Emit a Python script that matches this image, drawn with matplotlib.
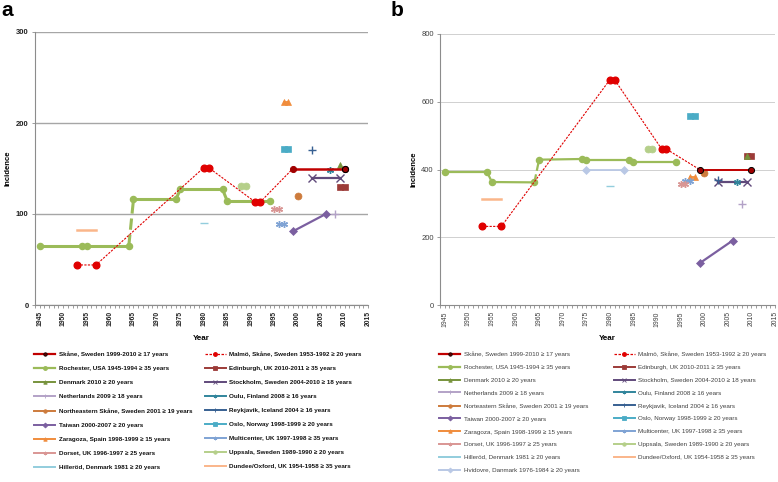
import matplotlib
matplotlib.use("Agg")
import matplotlib.pyplot as plt
from matplotlib.lines import Line2D
from matplotlib.ticker import MultipleLocator

# x = year as plotted, *_a = incidence in panel a, *_b = incidence in panel b
skane_x = [1999, 2010]
skane_a = [150, 150]
skane_b = [400, 400]

malmo_x = [1953, 1957, 1980, 1981, 1991, 1992, 1999]
malmo_a = [44, 44, 151, 151, 113, 113, 150]
malmo_b = [232, 232, 665, 665, 460, 460, 400]

roch_x = [1945, 1954, 1955, 1964, 1965, 1974, 1975, 1984, 1985, 1994]
roch_a = [65, 65, 65, 65, 116, 116, 127, 127, 114, 114]
roch_b = [392, 392, 363, 362, 429, 431, 427, 427, 421, 421]

edin_x = [2009, 2010]
edin_a = [130, 130]
edin_b = [440, 440]

denmark_x = [2009]
denmark_a = [154]
denmark_b = [441]

stock_x = [2003, 2009]
stock_a = [140, 140]
stock_b = [362, 362]

neth_x = [2008]
neth_a = [100]
neth_b = [298]

oulu_x = [2007]
oulu_a = [148]
oulu_b = [362]

neskane_x = [2000]
neskane_a = [120]
neskane_b = [389]

reyk_x = [2003]
reyk_a = [170]
reyk_b = [370]

taiwan_x = [1999, 2006]
taiwan_a = [81, 100]
taiwan_b = [123, 190]

oslo_x = [1997, 1998]
oslo_a = [171, 171]
oslo_b = [558, 558]

zara_x = [1997, 1998]
zara_a = [223, 223]
zara_b = [379, 379]

multi_x = [1996, 1997]
multi_a = [89, 89]
multi_b = [365, 365]

dorset_x = [1995, 1996]
dorset_a = [105, 105]
dorset_b = [358, 358]

upps_x = [1988, 1989]
upps_a = [131, 131]
upps_b = [461, 461]

hill_x = [1980]
hill_a = [90]
hill_b = [350]

dundee_x = [1953, 1957]
dundee_a = [82, 82]
dundee_b = [312, 312]

hvid_x = [1975, 1983]
hvid_b = [398, 398]

lbl_skane = "Skåne, Sweden 1999-2010 ≥ 17 years"
lbl_malmo = "Malmö, Skåne, Sweden 1953-1992 ≥ 20 years"
lbl_roch = "Rochester, USA 1945-1994 ≥ 35 years"
lbl_edin = "Edinburgh, UK 2010-2011 ≥ 35 years"
lbl_denmark = "Denmark 2010 ≥ 20 years"
lbl_stock = "Stockholm, Sweden 2004-2010 ≥ 18 years"
lbl_neth = "Netherlands 2009 ≥ 18 years"
lbl_oulu = "Oulu, Finland 2008 ≥ 16 years"
lbl_neskane_a = "Northeastern Skåne, Sweden 2001 ≥ 19 years"
lbl_neskane_b = "Norteastern Skåne, Sweden 2001 ≥ 19 years"
lbl_reyk = "Reykjavik, Iceland 2004 ≥ 16 years"
lbl_taiwan = "Taiwan 2000-2007 ≥ 20 years"
lbl_oslo = "Oslo, Norway 1998-1999 ≥ 20 years"
lbl_zara = "Zaragoza, Spain 1998-1999 ≥ 15 years"
lbl_multi = "Multicenter, UK 1997-1998 ≥ 35 years"
lbl_dorset = "Dorset, UK 1996-1997 ≥ 25 years"
lbl_upps = "Uppsala, Sweden 1989-1990 ≥ 20 years"
lbl_hill = "Hilleröd, Denmark 1981 ≥ 20 years"
lbl_dundee = "Dundee/Oxford, UK 1954-1958 ≥ 35 years"
lbl_hvid = "Hvidovre, Danmark 1976-1984 ≥ 20 years"

star = (6, 2, 0)


def draw_panel(ax, panel, series_y, neskane_lbl, weight, grid_col, ymax, ystep, colsp, lsp):
    a = panel == "a"
    ms = 4.4
    handles = {}

    # Rochester: solid study periods joined by dashed transitions
    ry = series_y["roch"]
    for i in range(len(roch_x) - 1):
        ls = "--" if i in (1, 3) else "-"
        ax.plot(roch_x[i:i + 2], ry[i:i + 2], color="#9BBB59", lw=2.2 if a else 1.6,
                ls=ls, zorder=3, solid_capstyle="butt")
    ax.plot(roch_x, ry, ls="none", marker="o", ms=ms, color="#9BBB59", zorder=3)
    handles["roch"] = Line2D([], [], color="#9BBB59", lw=1.6, marker="o", ms=2.5)

    ax.plot(malmo_x, series_y["malmo"], color="#E00000", lw=0.8, ls=(0, (2, 1.2)),
            marker="o", ms=ms + 0.4, markevery=list(range(6)), zorder=4)
    ax.plot(skane_x, series_y["skane"], color="#C00000", lw=1.8 if a else 1.4, marker="o",
            ms=ms, mfc="#A00000", mec="black" if not a else "#A00000", mew=0.7, zorder=4)
    if a:
        ax.plot(skane_x[-1:], series_y["skane"][-1:], ls="none", marker="o", ms=ms,
                mfc="#A00000", mec="black", mew=0.8, zorder=5)

    simple = [
        ("edin", edin_x, "#9C3B38", "s"),
        ("denmark", denmark_x, "#77933C", "^"),
        ("stock", stock_x, "#604A7B", "x"),
        ("neth", neth_x, "#B3A2C7", "+"),
        ("oulu", oulu_x, "#31859C", star),
        ("neskane", neskane_x, "#CD7B3C", "o"),
        ("reyk", reyk_x, "#376092", "+"),
        ("taiwan", taiwan_x, "#7B5FA0", "D"),
        ("oslo", oslo_x, "#4BACC6", "s"),
        ("zara", zara_x, "#F08C3C", "^"),
        ("multi", multi_x, "#7FA3D4", star),
        ("dorset", dorset_x, "#D99694", star),
        ("upps", upps_x, "#B5CF8A", "o"),
        ("hill", hill_x, "#93CDDD", "_"),
        ("dundee", dundee_x, "#FAB68A", ""),
        ("hvid", hvid_x, "#B9C8E5", "D"),
    ]
    for key, xs, col, mk in simple:
        if key not in series_y:
            continue
        kw = dict(color=col, lw=1.6 if key in ("stock", "taiwan") else 1.3, zorder=3)
        if mk:
            size = ms + 0.6
            if mk == "D":
                size = ms - 0.6
            if mk in ("x", "+", "_"):
                size = ms + 0.8
            kw.update(marker=mk, ms=size, mew=1.0 if mk in ("x", "+", "_", star) else 0.5)
        if key == "dundee":
            kw["lw"] = 1.8
        ax.plot(xs, series_y[key], **kw)
        handles[key] = Line2D([], [], color=col, lw=1.4, marker=mk if mk else None, ms=2.5,
                              mew=0.6)

    handles["skane"] = Line2D([], [], color="#C00000", lw=1.6, marker="o", ms=2.5,
                              mfc="#600000", mec="black", mew=0.5)
    handles["malmo"] = Line2D([], [], color="#E00000", lw=0.9, ls=(0, (2, 1.2)), marker="o",
                              ms=2.5)

    ax.set_xlim(1944, 2015)
    ax.set_ylim(0, ymax)
    ax.yaxis.set_major_locator(MultipleLocator(ystep))
    ax.xaxis.set_major_locator(MultipleLocator(5))
    ax.xaxis.set_minor_locator(MultipleLocator(1))
    ax.grid(axis="y", color=grid_col, lw=1.0 if a else 0.7)
    ax.set_axisbelow(True)
    for s in ("top", "right"):
        ax.spines[s].set_visible(False)
    for s in ("left", "bottom"):
        ax.spines[s].set_color("#8C8C8C")
        ax.spines[s].set_linewidth(0.8)
    ax.tick_params(axis="x", which="both", direction="out", length=2.5, width=0.6,
                   color="#8C8C8C", labelsize=4.9, rotation=90, pad=2)
    ax.tick_params(axis="y", direction="out", length=2.5, width=0.6, color="#8C8C8C",
                   labelsize=5.5, pad=2)
    for t in ax.get_xticklabels() + ax.get_yticklabels():
        t.set_fontweight(weight)
        t.set_color("#222222" if a else "#404040")
    ax.set_xlabel("Year", fontsize=5.8, fontweight="bold", labelpad=6)
    ax.set_ylabel("Incidence", fontsize=5.6, fontweight="bold", labelpad=3)

    left = ["skane", "roch", "denmark", "neth", "neskane", "taiwan", "zara", "dorset", "hill"]
    right = ["malmo", "edin", "stock", "oulu", "reyk", "oslo", "multi", "upps", "dundee"]
    if "hvid" in series_y:
        left.append("hvid")
    names = {"skane": lbl_skane, "malmo": lbl_malmo, "roch": lbl_roch, "edin": lbl_edin,
             "denmark": lbl_denmark, "stock": lbl_stock, "neth": lbl_neth, "oulu": lbl_oulu,
             "neskane": neskane_lbl, "reyk": lbl_reyk, "taiwan": lbl_taiwan, "oslo": lbl_oslo,
             "zara": lbl_zara, "multi": lbl_multi, "dorset": lbl_dorset, "upps": lbl_upps,
             "hill": lbl_hill, "dundee": lbl_dundee, "hvid": lbl_hvid}
    order = left + right
    leg = ax.legend([handles[k] for k in order], [names[k] for k in order], ncol=2,
                    loc="upper left", bbox_to_anchor=(-0.01, -0.162), frameon=False,
                    prop={"family": "Liberation Sans", "size": 4.5, "weight": weight},
                    handlelength=3.4, handletextpad=0.5, labelspacing=lsp,
                    columnspacing=colsp, borderaxespad=0)
    for t in leg.get_texts():
        t.set_color("#111111" if a else "#404040")


plt.rcParams["font.family"] = ["Liberation Sans", "DejaVu Sans"]
fig = plt.figure(figsize=(7.78, 4.82), dpi=100)
ax_a = fig.add_axes([35 / 778, 177 / 482, 333 / 778, 273 / 482])
ax_b = fig.add_axes([440 / 778, 177 / 482, 335 / 778, 271 / 482])

ya = {"skane": skane_a, "malmo": malmo_a, "roch": roch_a, "edin": edin_a,
      "denmark": denmark_a, "stock": stock_a, "neth": neth_a, "oulu": oulu_a,
      "neskane": neskane_a, "reyk": reyk_a, "taiwan": taiwan_a, "oslo": oslo_a,
      "zara": zara_a, "multi": multi_a, "dorset": dorset_a, "upps": upps_a,
      "hill": hill_a, "dundee": dundee_a}
yb = {"skane": skane_b, "malmo": malmo_b, "roch": roch_b, "edin": edin_b,
      "denmark": denmark_b, "stock": stock_b, "neth": neth_b, "oulu": oulu_b,
      "neskane": neskane_b, "reyk": reyk_b, "taiwan": taiwan_b, "oslo": oslo_b,
      "zara": zara_b, "multi": multi_b, "dorset": dorset_b, "upps": upps_b,
      "hill": hill_b, "dundee": dundee_b, "hvid": hvid_b}

draw_panel(ax_a, "a", ya, lbl_neskane_a, "bold", "#A6A6A6", 300, 100, 2.0, 1.38)
draw_panel(ax_b, "b", yb, lbl_neskane_b, "normal", "#D0D0D0", 800, 200, 4.1, 1.2)

fig.text(0.002, 0.998, "a", fontsize=15, fontweight="bold", va="top", ha="left",
         family="Liberation Sans")
fig.text(0.502, 0.998, "b", fontsize=15, fontweight="bold", va="top", ha="left",
         family="Liberation Sans")

fig.savefig("out.png", dpi=100)
